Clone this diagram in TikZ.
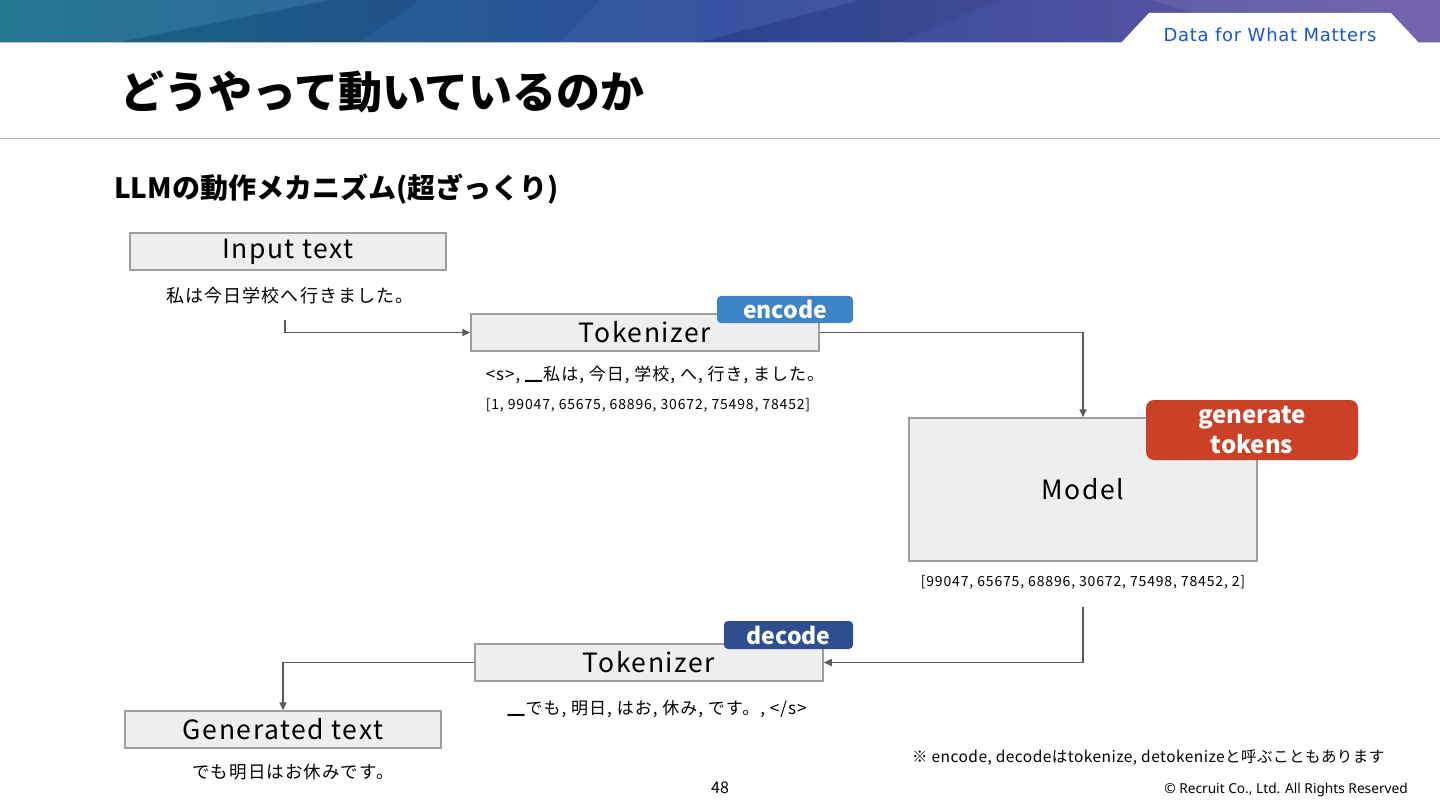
\documentclass[tikz,border=0pt]{standalone}
\usepackage{fontspec}
\setmainfont{Noto Sans CJK JP}
\newfontfamily\widefont[LetterSpace=6]{Noto Sans CJK JP}
\newfontfamily\notefont[LetterSpace=3]{Noto Sans CJK JP}
\newfontfamily\latinfont{Noto Sans}
\newfontfamily\logofont[LetterSpace=4]{DejaVu Sans}
\usetikzlibrary{arrows.meta,calc}
\definecolor{boxfill}{HTML}{EEEEEE}
\definecolor{boxline}{HTML}{9E9E9E}
\definecolor{arrowgray}{HTML}{5A5A5A}
\definecolor{encblue}{HTML}{3D85C6}
\definecolor{decblue}{HTML}{2E4E8F}
\definecolor{genred}{HTML}{CC4125}
\definecolor{bannerA}{HTML}{17708C}
\definecolor{bannerB}{HTML}{2E4A9C}
\definecolor{bannerC}{HTML}{6A57A6}
\definecolor{logoblue}{HTML}{1A55CC}
\begin{document}
\begin{tikzpicture}[x=1pt,y=-1pt,
  box/.style={draw=boxline,fill=boxfill,line width=1.5pt,inner sep=0pt,font=\widefont\fontsize{26.5}{30}\selectfont},
  badge/.style={rounded corners=4pt,inner sep=0pt,text=white,font=\fontsize{23}{26}\selectfont\bfseries},
  plain/.style={inner sep=0pt,text=black},
  conn/.style={draw=arrowgray,line width=1.6pt,-{Triangle[length=8pt,width=7pt]}}
]
\useasboundingbox (0,0) rectangle (1440,810);
\fill[white] (0,0) rectangle (1440,810);
% banner
\shade[left color=bannerA,right color=bannerC,middle color=bannerB] (0,0) rectangle (1440,42);
\fill[white,opacity=0.06] (0,0) -- (330,0) -- (120,42) -- (0,42) -- cycle;
\fill[black,opacity=0.08] (330,0) -- (420,0) -- (360,42) -- (120,42) -- cycle;
\fill[white,opacity=0.05] (600,0) -- (860,0) -- (700,42) -- (560,42) -- cycle;
\fill[black,opacity=0.07] (860,0) -- (1000,0) -- (900,42) -- (700,42) -- cycle;
\fill[white,opacity=0.08] (1150,0) -- (1440,0) -- (1440,42) -- (1300,42) -- cycle;
\draw[color=boxline!60,line width=1pt] (0,42.5) -- (1440,42.5);
\fill[white] (1121,43) -- (1149,13) -- (1391,13) -- (1419,43) -- cycle;
\node[plain,text=logoblue,font=\logofont\fontsize{18}{20}\selectfont] (logo) at (1270,35) {Data for What Matters};
% title
\node[plain,anchor=west,font=\fontsize{44}{50}\selectfont\bfseries] (title) at (120,92) {どうやって動いているのか};
\draw[color=boxline!80,line width=1.5pt] (0,138.5) -- (1440,138.5);
\node[plain,anchor=west,font=\fontsize{28}{32}\selectfont\bfseries] (sub) at (114,189) {LLMの動作メカニズム(超ざっくり)};
% boxes
\node[box,minimum width=316pt,minimum height=37pt] (in) at (288,251.5) {Input text};
\node[plain,font=\widefont\fontsize{18}{20}\selectfont] (intext) at (290,296) {私は今日学校へ行きました。};
\coordinate (s1) at (285,320);
\node[box,minimum width=348pt,minimum height=37pt] (tok1) at (645,332.5) {Tokenizer};
\node[plain,font=\widefont\fontsize{17}{20}\selectfont] (toks1) at (655,375) {<s>, ▁私は, 今日, 学校, へ, 行き, ました。};
\node[plain,font=\widefont\fontsize{14}{16}\selectfont] (ids1) at (648,405) {[1, 99047, 65675, 68896, 30672, 75498, 78452]};
\node[box,minimum width=348pt,minimum height=143pt] (model) at (1083,489.5) {Model};
\node[plain,font=\widefont\fontsize{14}{16}\selectfont] (ids2) at (1083,582) {[99047, 65675, 68896, 30672, 75498, 78452, 2]};
\coordinate (s2) at (1083,607);
\node[box,minimum width=348pt,minimum height=37pt] (tok2) at (649,662.5) {Tokenizer};
\node[plain,font=\widefont\fontsize{17}{20}\selectfont] (toks2) at (657,709) {▁でも, 明日, はお, 休み, です。, </s>};
\node[box,minimum width=316pt,minimum height=37pt] (gen) at (283,729.5) {Generated text};
\node[plain,font=\widefont\fontsize{17.5}{20}\selectfont] (gentext) at (293,772) {でも明日はお休みです。};
% connectors
\draw[conn] (s1) |- (tok1.west);
\draw[conn] (tok1.east) -| (model.north);
\draw[conn] (s2) |- (tok2.east);
\draw[conn] (tok2.west) -| (gen.north);
% badges
\node[badge,fill=encblue,minimum width=136pt,minimum height=27pt] (enc) at (785,309.5) {encode};
\node[badge,fill=decblue,minimum width=129pt,minimum height=28pt] (dec) at (788.5,635) {decode};
\node[badge,rounded corners=8pt,fill=genred,minimum width=212pt,minimum height=60pt,align=center,font=\fontsize{24}{30}\selectfont\bfseries] (gentok) at (1252,430) {generate\\tokens};
% footer
\node[plain,anchor=west,font=\notefont\fontsize{15.5}{18}\selectfont] (note) at (912,758) {※ encode, decodeはtokenize, detokenizeと呼ぶこともあります};
\node[plain,font=\fontsize{16}{18}\selectfont] (page) at (720,788) {48};
\node[plain,anchor=east,font=\latinfont\fontsize{13.7}{15}\selectfont] (copy) at (1408,790) {© Recruit Co., Ltd. All Rights Reserved};
\end{tikzpicture}
\end{document}
